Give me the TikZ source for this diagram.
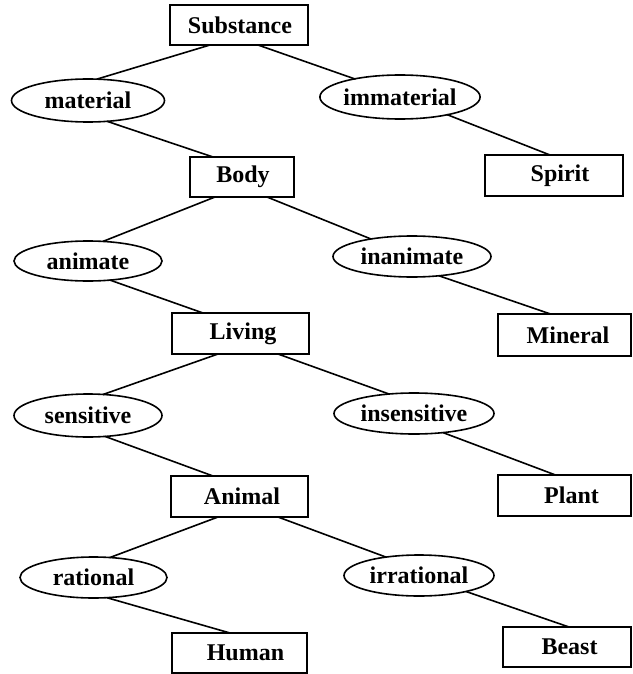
\documentclass[tikz,border=0pt]{standalone}
\usepackage{fontspec}
\setmainfont{Liberation Serif}
\usetikzlibrary{shapes.geometric}
\begin{document}
\begin{tikzpicture}[x=1pt,y=-1pt,
  lbl/.style={font=\fontsize{24}{28}\selectfont\bfseries,text=black},
  box/.style={lbl,draw,line width=1.6pt,inner sep=0pt,rectangle},
  oval/.style={lbl,draw,ellipse,line width=1.6pt,inner sep=0pt},
  link/.style={line width=1.6pt,line cap=round}]
\useasboundingbox[fill=white] (0,0) rectangle (632,674);
% boxes
\node[box,minimum width=138pt,minimum height=40pt] (sub) at (239,25) {\hspace*{2pt}Substance};
\node[box,minimum width=104pt,minimum height=40pt] (body) at (242,177) {\hspace*{2pt}Body};
\node[box,minimum width=138pt,minimum height=41pt] (spirit) at (554,175.5) {\hspace*{12pt}Spirit};
\node[box,minimum width=137pt,minimum height=41pt] (living) at (240.5,333.5) {\hspace*{5pt}Living};
\node[box,minimum width=133pt,minimum height=42pt] (mineral) at (564.5,335) {\hspace*{7pt}Mineral};
\node[box,minimum width=137pt,minimum height=41pt] (animal) at (239.5,496.5) {\hspace*{5pt}Animal};
\node[box,minimum width=133pt,minimum height=41pt] (plant) at (564.5,495.5) {\hspace*{14pt}Plant};
\node[box,minimum width=135pt,minimum height=40pt] (human) at (239.5,653) {\hspace*{12pt}Human};
\node[box,minimum width=128pt,minimum height=40pt] (beast) at (567,647) {\hspace*{5pt}Beast};
% ovals
\node[oval,minimum width=153pt,minimum height=43pt] (mat) at (88,100.5) {material};
\node[oval,minimum width=156pt,minimum height=44pt] (immat) at (400,97) {immaterial};
\node[oval,minimum width=148pt,minimum height=40pt] (anim) at (88,261) {animate};
\node[oval,minimum width=158pt,minimum height=41pt] (inanim) at (412,256.5) {inanimate};
\node[oval,minimum width=148pt,minimum height=43pt] (sens) at (88,415.5) {sensitive};
\node[oval,minimum width=160pt,minimum height=41pt] (insens) at (414,413.5) {insensitive};
\node[oval,minimum width=147pt,minimum height=41pt] (rat) at (93.5,577.5) {rational};
\node[oval,minimum width=150pt,minimum height=41pt] (irrat) at (419,575.5) {irrational};
% connectors
\draw[link] ([shift={(-29,20)}]sub.center) -- ([shift={(9,-21.4)}]mat.center);
\draw[link] ([shift={(19,20)}]sub.center) -- ([shift={(-45,-18)}]immat.center);
\draw[link] ([shift={(19,20.8)}]mat.center) -- ([shift={(-29,-20)}]body.center);
\draw[link] ([shift={(47,17.6)}]immat.center) -- ([shift={(-4,-20.5)}]spirit.center);
\draw[link] ([shift={(-27,20)}]body.center) -- ([shift={(15,-19.6)}]anim.center);
\draw[link] ([shift={(25,20)}]body.center) -- ([shift={(-41,-17.5)}]inanim.center);
\draw[link] ([shift={(22,19.1)}]anim.center) -- ([shift={(-37.5,-20.5)}]living.center);
\draw[link] ([shift={(27,19.3)}]inanim.center) -- ([shift={(-14,-21)}]mineral.center);
\draw[link] ([shift={(-22.5,20.5)}]living.center) -- ([shift={(15,-21)}]sens.center);
\draw[link] ([shift={(37.5,20.5)}]living.center) -- ([shift={(-25,-19.5)}]insens.center);
\draw[link] ([shift={(17,20.9)}]sens.center) -- ([shift={(-26.5,-20.5)}]animal.center);
\draw[link] ([shift={(29,19.1)}]insens.center) -- ([shift={(-9,-20.5)}]plant.center);
\draw[link] ([shift={(-21.5,20.5)}]animal.center) -- ([shift={(16.5,-20)}]rat.center);
\draw[link] ([shift={(38.5,20.5)}]animal.center) -- ([shift={(-33,-18.4)}]irrat.center);
\draw[link] ([shift={(13.5,20.2)}]rat.center) -- ([shift={(-9.5,-20)}]human.center);
\draw[link] ([shift={(47,16)}]irrat.center) -- ([shift={(2,-20)}]beast.center);
\end{tikzpicture}
\end{document}
